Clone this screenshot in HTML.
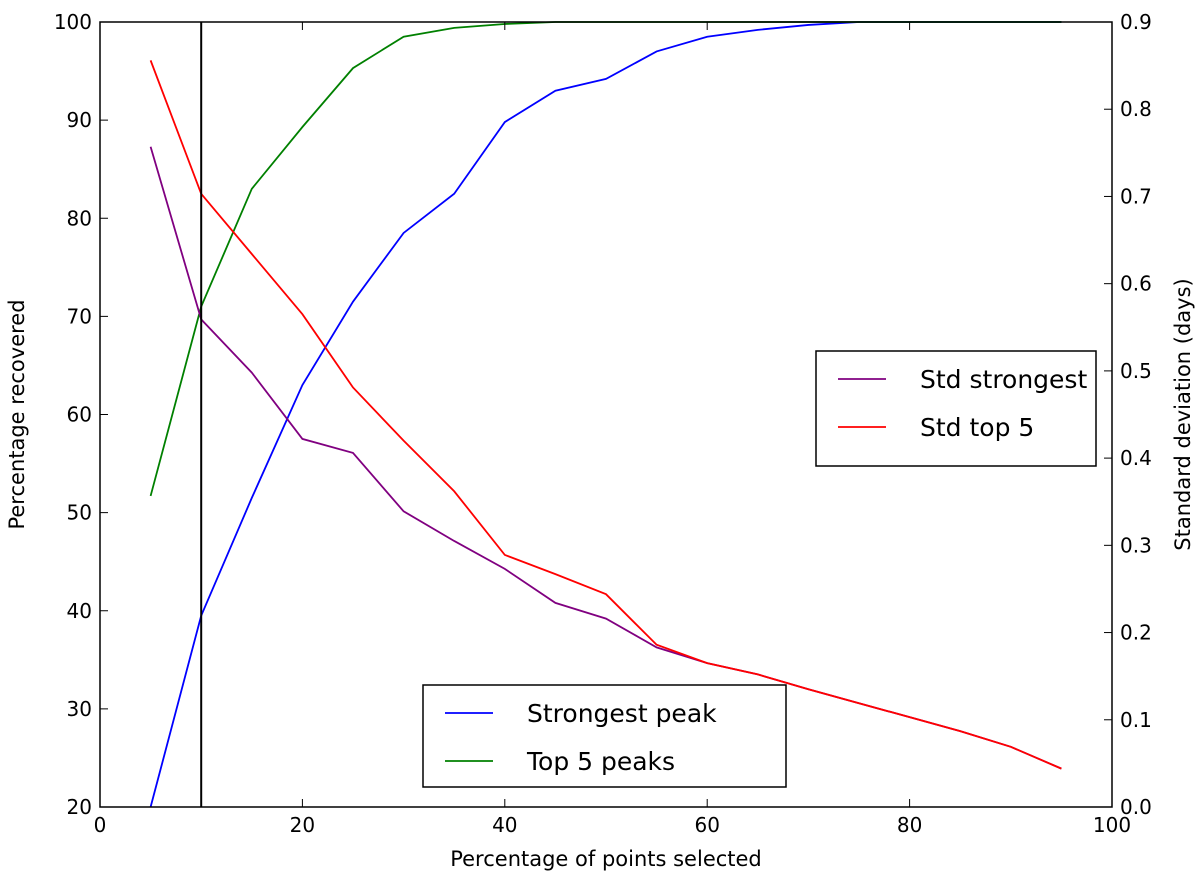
<!DOCTYPE html>
<html><head><meta charset="utf-8"><style>
body{margin:0;background:#fff;}
svg text{font-family:"DejaVu Sans","Liberation Sans",sans-serif;fill:#000;}
</style></head><body>
<svg id="chart" width="1200" height="878" xmlns="http://www.w3.org/2000/svg"></svg>
<script>
const xs=[5,10,15,20,25,30,35,40,45,50,55,60,65,70,75,80,85,90,95];
const strongest=[20,39.5,51.5,63,71.5,78.5,82.5,89.8,93,94.2,97,98.5,99.2,99.7,100,100,100,100,100];
const top5=[51.7,71,83,89.3,95.3,98.5,99.4,99.8,100,100,100,100,100,100,100,100,100,100,100];
const stdStrongest=[0.757,0.559,0.498,0.422,0.406,0.339,0.305,0.273,0.234,0.216,0.183,0.165,0.152,0.135,0.119,0.103,0.087,0.069,0.044];
const stdTop5=[0.856,0.703,0.634,0.565,0.481,0.420,0.362,0.289,0.267,0.244,0.186,0.165,0.152,0.135,0.119,0.103,0.087,0.069,0.044];
const xTicks=[0,20,40,60,80,100];
const yTicks=[20,30,40,50,60,70,80,90,100];
const y2Ticks=[0.0,0.1,0.2,0.3,0.4,0.5,0.6,0.7,0.8,0.9];
const L=100,R=1112,T=22,B=807;
const sx=v=>L+(v/100)*(R-L);
const sy=v=>B-(v-20)/80*(B-T);
const sy2=v=>B-v/0.9*(B-T);
const svg=document.getElementById('chart');
const NS='http://www.w3.org/2000/svg';
function mk(t,a,p){const e=document.createElementNS(NS,t);for(const k in a)e.setAttribute(k,a[k]);(p||svg).appendChild(e);return e;}
function line(xv,yv,f,color,name){
  const p=mk('polyline',{points:xv.map((x,i)=>sx(x)+','+f(yv[i])).join(' '),fill:'none',stroke:color,'stroke-width':1.8});
  
  
}
line(xs,strongest,sy,'#0000ff','line-strongest-peak');
line(xs,top5,sy,'#008000','line-top5-peaks');
line(xs,stdStrongest,sy2,'#800080','line-std-strongest');
line(xs,stdTop5,sy2,'#ff0000','line-std-top5');
const vl=mk('line',{x1:sx(10),x2:sx(10),y1:T,y2:B,stroke:'#000','stroke-width':2});


const fr=mk('rect',{x:L,y:T,width:R-L,height:B-T,fill:'none',stroke:'#000','stroke-width':1.5});


xTicks.forEach(v=>{const x=sx(v);mk('line',{x1:x,x2:x,y1:B,y2:B-8,stroke:'#000'});mk('line',{x1:x,x2:x,y1:T,y2:T+8,stroke:'#000'});
 const t=mk('text',{x:x,y:B+25,'text-anchor':'middle','font-size':20});t.textContent=v;
 
 });
yTicks.forEach(v=>{const y=sy(v);mk('line',{x1:L,x2:L+8,y1:y,y2:y,stroke:'#000'});
 const t=mk('text',{x:L-8,y:y+7,'text-anchor':'end','font-size':20});t.textContent=v;
 
 });
y2Ticks.forEach(v=>{const y=sy2(v);mk('line',{x1:R,x2:R-8,y1:y,y2:y,stroke:'#000'});
 const t=mk('text',{x:R+8,y:y+7,'text-anchor':'start','font-size':20});t.textContent=v.toFixed(1);
 
 });
let t=mk('text',{x:(L+R)/2,y:866,'text-anchor':'middle','font-size':21});t.textContent='Percentage of points selected';


t=mk('text',{x:0,y:0,'text-anchor':'middle','font-size':21,transform:'translate(24,'+(T+B)/2+') rotate(-90)'});t.textContent='Percentage recovered';


t=mk('text',{x:0,y:0,'text-anchor':'middle','font-size':21,transform:'translate(1190,'+(T+B)/2+') rotate(-90)'});t.textContent='Standard deviation (days)';


function legend(x,y,w,h,items,name){
 const g=mk('g',{});
 
 
 mk('rect',{x:x,y:y,width:w,height:h,fill:'#fff',stroke:'#000','stroke-width':1.5},g);
 items.forEach((it,i)=>{const cy=y+28+i*48;
  mk('line',{x1:x+22,x2:x+70,y1:cy,y2:cy,stroke:it[1],'stroke-width':1.8},g);
  const tt=mk('text',{x:x+104,y:cy+9,'font-size':25},g);tt.textContent=it[0];});
}
legend(423,685,363,102,[['Strongest peak','#0000ff'],['Top 5 peaks','#008000']],'legend-recovered');
legend(816,351,280,115,[['Std strongest','#800080'],['Std top 5','#ff0000']],'legend-std');
</script>
</body></html>
